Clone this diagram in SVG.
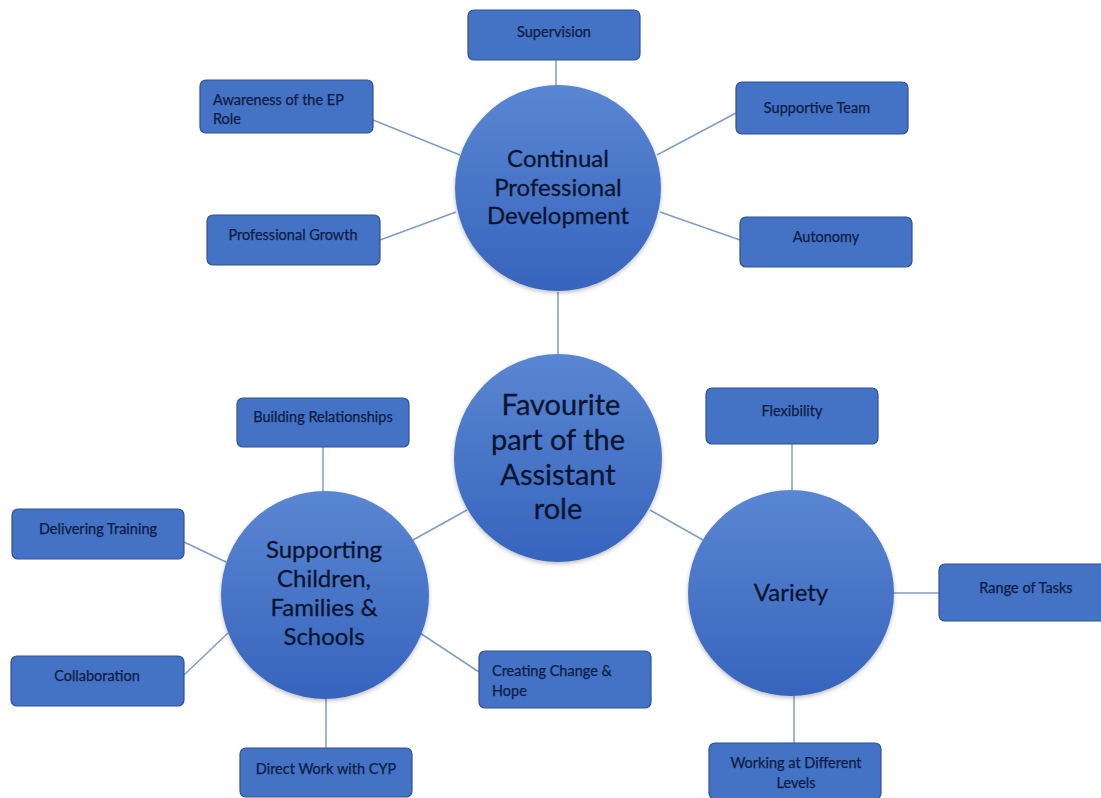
<svg xmlns="http://www.w3.org/2000/svg" width="1101" height="798" viewBox="0 0 1101 798">
<defs>
<linearGradient id="cg" x1="0" y1="0" x2="0" y2="1">
<stop offset="0" stop-color="#5a86d2"/>
<stop offset="1" stop-color="#3764bd"/>
</linearGradient>
<filter id="sh" x="-10%" y="-10%" width="120%" height="125%">
<feDropShadow dx="0" dy="2" stdDeviation="2" flood-color="#000" flood-opacity="0.25"/>
</filter>
</defs>
<style>
.box{fill:#4472c4;stroke:#2f528f;stroke-width:1.2}
.circ{fill:url(#cg);filter:url(#sh)}
.bt{font-family:Lato,"Open Sans","Liberation Sans",sans-serif;font-size:14.5px;fill:#0e1c44;stroke:#0e1c44;stroke-width:0.25}
.ct{font-family:Lato,"Open Sans","Liberation Sans",sans-serif;font-size:24px;fill:#0b1530;stroke:#0b1530;stroke-width:0.3;text-anchor:middle}
.big{font-size:29px}
.m{text-anchor:middle}
.conn line{stroke:#7f9cc9;stroke-width:1.5}
</style>
<rect width="1101" height="798" fill="#fff"/>
<g class="conn">
<line x1="556" y1="60" x2="556" y2="86"/>
<line x1="373" y1="120" x2="460" y2="155"/>
<line x1="736" y1="113" x2="657" y2="155"/>
<line x1="380" y1="240" x2="456" y2="212"/>
<line x1="740" y1="240" x2="660" y2="212"/>
<line x1="558" y1="292" x2="558" y2="355"/>
<line x1="467" y1="510" x2="413" y2="540"/>
<line x1="650" y1="510" x2="703" y2="540"/>
<line x1="323" y1="447" x2="323" y2="492"/>
<line x1="184" y1="542" x2="226" y2="562"/>
<line x1="184" y1="675" x2="228" y2="633"/>
<line x1="479" y1="672" x2="420" y2="633"/>
<line x1="326" y1="748" x2="326" y2="698"/>
<line x1="792" y1="444" x2="792" y2="491"/>
<line x1="939" y1="593" x2="894" y2="593"/>
<line x1="794" y1="743" x2="794" y2="696"/>
</g>
<g id="cpd"><circle class="circ" cx="558" cy="188" r="103"/>
<text class="ct" x="558" y="167">Continual</text><text class="ct" x="558" y="196">Professional</text><text class="ct" x="558" y="224">Development</text></g>
<g id="center"><circle class="circ" cx="558" cy="458" r="104"/>
<text class="ct big" x="561" y="415">Favourite</text><text class="ct big" x="558" y="450">part of the</text><text class="ct big" x="558" y="485">Assistant</text><text class="ct big" x="558" y="519">role</text></g>
<g id="supporting"><circle class="circ" cx="325" cy="595" r="104"/>
<text class="ct" x="324" y="558">Supporting</text><text class="ct" x="324" y="587">Children,</text><text class="ct" x="324" y="616">Families &amp;</text><text class="ct" x="324" y="645">Schools</text></g>
<g id="variety"><circle class="circ" cx="791" cy="593" r="103"/>
<text class="ct" x="791" y="601">Variety</text></g>
<g id="supervision"><rect class="box" x="468" y="10" width="172" height="50" rx="6"/><text class="bt m" x="554" y="37">Supervision</text></g>
<g id="awareness"><rect class="box" x="200" y="80" width="173" height="53" rx="6"/><text class="bt" x="213" y="105">Awareness of the EP</text><text class="bt" x="213" y="124">Role</text></g>
<g id="supportive"><rect class="box" x="736" y="82" width="172" height="52" rx="6"/><text class="bt m" x="817" y="113">Supportive Team</text></g>
<g id="growth"><rect class="box" x="207" y="215" width="173" height="50" rx="6"/><text class="bt m" x="293" y="240">Professional Growth</text></g>
<g id="autonomy"><rect class="box" x="740" y="217" width="172" height="50" rx="6"/><text class="bt m" x="826" y="242">Autonomy</text></g>
<g id="building"><rect class="box" x="237" y="398" width="172" height="49" rx="6"/><text class="bt m" x="323" y="422">Building Relationships</text></g>
<g id="flexibility"><rect class="box" x="706" y="388" width="172" height="56" rx="6"/><text class="bt m" x="792" y="416">Flexibility</text></g>
<g id="training"><rect class="box" x="12" y="509" width="172" height="50" rx="6"/><text class="bt m" x="98" y="534">Delivering Training</text></g>
<g id="range"><rect class="box" x="939" y="564" width="170" height="57" rx="6"/><text class="bt m" x="1026" y="593">Range of Tasks</text></g>
<g id="collaboration"><rect class="box" x="11" y="656" width="173" height="50" rx="6"/><text class="bt m" x="97" y="681">Collaboration</text></g>
<g id="change"><rect class="box" x="479" y="651" width="172" height="57" rx="6"/><text class="bt" x="492" y="676">Creating Change &amp;</text><text class="bt" x="492" y="696">Hope</text></g>
<g id="direct"><rect class="box" x="240" y="748" width="172" height="49" rx="6"/><text class="bt m" x="326" y="774">Direct Work with CYP</text></g>
<g id="levels"><rect class="box" x="709" y="743" width="172" height="56" rx="6"/><text class="bt m" x="796" y="768">Working at Different</text><text class="bt m" x="796" y="788">Levels</text></g>
</svg>
